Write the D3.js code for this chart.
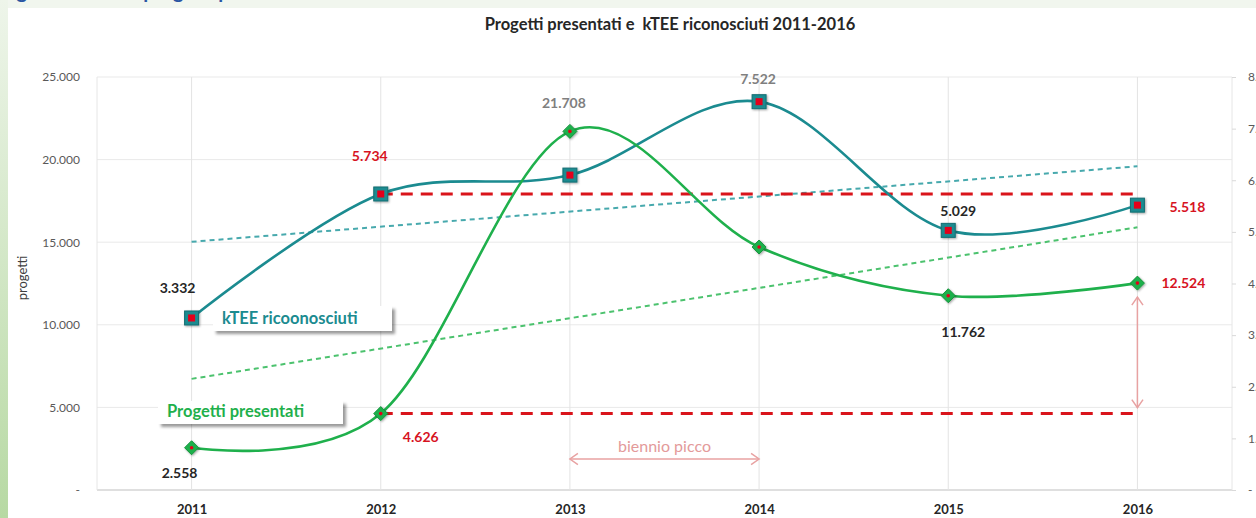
<!DOCTYPE html>
<html>
<head>
<meta charset="utf-8">
<script src="https://cdn.jsdelivr.net/npm/d3@7"></script>
<style>
  body { margin: 0; background: #fff; }
  svg { display: block; font-family: Lato, 'Open Sans', sans-serif; }
</style>
</head>
<body>
<div id="chart"></div>
<script>
// data
const years = ['2011', '2012', '2013', '2014', '2015', '2016'];
const progetti = [2558, 4626, 21708, 14709, 11762, 12524];
const ktee = [3332, 5734, 6100, 7522, 5029, 5518];
const leftTicks = [0, 5000, 10000, 15000, 20000, 25000];
const rightTicks = [0, 1000, 2000, 3000, 4000, 5000, 6000, 7000, 8000];

// which points carry a value label, and their colour
const progettiLabels = ['dark', 'red', 'gray', null, 'dark', 'red'];
const kteeLabels = ['dark', 'red', null, 'gray', 'dark', 'red'];

const width = 1256;
const height = 518;
const plot = { left: 97, right: 1232, top: 77, bottom: 490 };

const itFmt = d3.formatLocale({ decimal: ',', thousands: '.', grouping: [3], currency: ['€', ''] }).format(',.0f');
const tickFmt = d => d === 0 ? '-' : itFmt(d);

const labelColors = { dark: '#262626', red: '#d7141f', gray: '#7f7f7f' };
const teal = '#1b8b90';
const green = '#1fb04c';
const redDash = '#d9141b';
const pink = '#e8a2a2';

const svg = d3.select('#chart')
    .append('svg')
    .attr('width', width)
    .attr('height', height);

const defs = svg.append('defs');

const markerShadow = defs.append('filter').attr('id', 'mshadow')
    .attr('x', '-50%').attr('y', '-50%').attr('width', '200%').attr('height', '200%');
markerShadow.append('feDropShadow')
    .attr('dx', 1).attr('dy', 1).attr('stdDeviation', 1)
    .attr('flood-color', '#000').attr('flood-opacity', 0.35);

const boxShadow = defs.append('filter').attr('id', 'bshadow')
    .attr('x', '-20%').attr('y', '-50%').attr('width', '140%').attr('height', '200%');
boxShadow.append('feDropShadow')
    .attr('dx', 3).attr('dy', 3).attr('stdDeviation', 1.5)
    .attr('flood-color', '#000').attr('flood-opacity', 0.4);

const blur = defs.append('filter').attr('id', 'blur')
    .attr('x', '-20%').attr('y', '-200%').attr('width', '140%').attr('height', '500%');
blur.append('feGaussianBlur').attr('stdDeviation', 1.4);

const sideGrad = defs.append('linearGradient')
    .attr('id', 'sideGrad')
    .attr('x1', '0%').attr('y1', '0%').attr('x2', '0%').attr('y2', '100%');
sideGrad.append('stop').attr('offset', '0%').attr('stop-color', '#eef5ea');
sideGrad.append('stop').attr('offset', '100%').attr('stop-color', '#b7d9a3');

// page background: green strips at top and left
svg.append('rect')
    .attr('width', width).attr('height', 8)
    .attr('fill', '#f1f6ee');
svg.append('rect')
    .attr('y', 0).attr('width', 8).attr('height', height)
    .attr('fill', 'url(#sideGrad)');

// page heading above the chart, mostly outside the window
svg.append('text')
    .attr('x', 0)
    .attr('y', -2)
    .style('fill', '#2a56a3')
    .style('font-size', '20px')
    .style('font-weight', 'bold')
    .text('Figura 6 – Serie progetti presentati e kTEE riconosciuti');

svg.append('rect')
    .attr('x', 8).attr('y', 8)
    .attr('width', width - 8).attr('height', height - 8)
    .attr('fill', '#fff');

const x = d3.scalePoint()
    .domain(years)
    .range([plot.left, plot.right])
    .padding(0.5);

const yL = d3.scaleLinear()
    .domain([0, 25000])
    .range([plot.bottom, plot.top]);

const yR = d3.scaleLinear()
    .domain([0, 8000])
    .range([plot.bottom, plot.top]);

// grid
svg.selectAll('.hgrid')
    .data(leftTicks)
    .enter()
    .append('line')
    .attr('class', 'hgrid')
    .attr('x1', plot.left).attr('x2', plot.right)
    .attr('y1', d => yL(d)).attr('y2', d => yL(d))
    .style('stroke', d => d === 0 ? '#d4d4d4' : '#e9e9e9')
    .style('stroke-width', d => d === 0 ? 1.5 : 1);

svg.selectAll('.vgrid')
    .data(years)
    .enter()
    .append('line')
    .attr('class', 'vgrid')
    .attr('x1', d => x(d)).attr('x2', d => x(d))
    .attr('y1', plot.top).attr('y2', plot.bottom)
    .style('stroke', '#e3e3e3');

[plot.left, plot.right].forEach(px => {
    svg.append('line')
        .attr('x1', px).attr('x2', px)
        .attr('y1', plot.top).attr('y2', plot.bottom)
        .style('stroke', '#e6e6e6');
});

// axes
const leftAxis = svg.append('g')
    .attr('transform', `translate(${plot.left},0)`)
    .call(d3.axisLeft(yL).tickValues(leftTicks).tickFormat(tickFmt).tickSize(0).tickPadding(17));
leftAxis.select('.domain').remove();
leftAxis.selectAll('text')
    .style('fill', '#595959')
    .style('font-size', '12px')
    .style('font-family', 'Lato, sans-serif');

const rightAxis = svg.append('g')
    .attr('transform', `translate(${plot.right},0)`)
    .call(d3.axisRight(yR).tickValues(rightTicks).tickFormat(tickFmt).tickSize(4).tickPadding(12));
rightAxis.select('.domain').remove();
rightAxis.selectAll('line').style('stroke', '#d9d9d9');
rightAxis.selectAll('text')
    .style('fill', '#595959')
    .style('font-size', '12px')
    .style('font-family', 'Lato, sans-serif');

const bottomAxis = svg.append('g')
    .attr('transform', `translate(0,${plot.bottom})`)
    .call(d3.axisBottom(x).tickSize(0).tickPadding(15));
bottomAxis.select('.domain').remove();
bottomAxis.selectAll('text')
    .style('fill', '#262626')
    .style('font-size', '13px')
    .style('font-weight', 'bold')
    .style('font-family', 'Lato, sans-serif');

svg.append('text')
    .attr('transform', 'rotate(-90)')
    .attr('x', -278)
    .attr('y', 27)
    .attr('text-anchor', 'middle')
    .style('fill', '#404040')
    .style('font-size', '13px')
    .text('progetti');

svg.append('text')
    .attr('x', 670)
    .attr('y', 30)
    .attr('text-anchor', 'middle')
    .style('fill', '#262626')
    .style('font-size', '16.5px')
    .style('font-weight', 'bold')
    .style('white-space', 'pre')
    .text('Progetti presentati e  kTEE riconosciuti 2011-2016');

// linear trend lines (Excel-style)
function trend(values) {
    const idx = values.map((d, i) => i);
    const mx = d3.mean(idx);
    const my = d3.mean(values);
    const slope = d3.sum(idx, i => (i - mx) * (values[i] - my)) / d3.sum(idx, i => (i - mx) ** 2);
    return idx.map(i => my + slope * (i - mx));
}

const kteeTrend = trend(ktee);
const progettiTrend = trend(progetti);
const last = years.length - 1;

svg.append('line')
    .attr('x1', x(years[0])).attr('x2', x(years[last]))
    .attr('y1', yR(kteeTrend[0])).attr('y2', yR(kteeTrend[last]))
    .style('stroke', '#47a9ad')
    .style('stroke-width', 2)
    .style('stroke-dasharray', '5,4');

svg.append('line')
    .attr('x1', x(years[0])).attr('x2', x(years[last]))
    .attr('y1', yL(progettiTrend[0])).attr('y2', yL(progettiTrend[last]))
    .style('stroke', '#4cc26e')
    .style('stroke-width', 2)
    .style('stroke-dasharray', '5,4');

// red reference lines at the 2012 levels
svg.append('line')
    .attr('x1', x(years[1])).attr('x2', x(years[last]))
    .attr('y1', yR(ktee[1])).attr('y2', yR(ktee[1]))
    .style('stroke', redDash)
    .style('stroke-width', 3)
    .style('stroke-dasharray', '12,8');

svg.append('line')
    .attr('x1', x(years[1])).attr('x2', x(years[last]))
    .attr('y1', yL(progetti[1])).attr('y2', yL(progetti[1]))
    .style('stroke', redDash)
    .style('stroke-width', 3)
    .style('stroke-dasharray', '12,8');

// pink arrows
function chevron(px, py, dir) {
    const s = 8;
    let d;
    if (dir === 'up') d = `M${px - s * 0.7},${py + s} L${px},${py} L${px + s * 0.7},${py + s}`;
    if (dir === 'down') d = `M${px - s * 0.7},${py - s} L${px},${py} L${px + s * 0.7},${py - s}`;
    if (dir === 'left') d = `M${px + s},${py - s * 0.7} L${px},${py} L${px + s},${py + s * 0.7}`;
    if (dir === 'right') d = `M${px - s},${py - s * 0.7} L${px},${py} L${px - s},${py + s * 0.7}`;
    svg.append('path')
        .attr('d', d)
        .attr('fill', 'none')
        .style('stroke', pink)
        .style('stroke-width', 1.5);
}

const ax = x(years[last]);
const ay1 = yL(progetti[last]) + 14;
const ay2 = yL(progetti[1]) - 6;
svg.append('line')
    .attr('x1', ax).attr('x2', ax)
    .attr('y1', ay1).attr('y2', ay2)
    .style('stroke', pink)
    .style('stroke-width', 1.5);
chevron(ax, ay1, 'up');
chevron(ax, ay2, 'down');

const hy = 459;
svg.append('line')
    .attr('x1', x('2013')).attr('x2', x('2014'))
    .attr('y1', hy).attr('y2', hy)
    .style('stroke', pink)
    .style('stroke-width', 1.5);
chevron(x('2013'), hy, 'left');
chevron(x('2014'), hy, 'right');

svg.append('text')
    .attr('x', (x('2013') + x('2014')) / 2)
    .attr('y', hy - 7)
    .attr('text-anchor', 'middle')
    .style('fill', '#e39a9a')
    .style('font-size', '16px')
    .text('biennio picco');

// series lines
const smooth = d3.curveCatmullRom.alpha(0);

svg.append('path')
    .datum(ktee)
    .attr('fill', 'none')
    .attr('stroke', teal)
    .attr('stroke-width', 2.6)
    .attr('d', d3.line().x((d, i) => x(years[i])).y(d => yR(d)).curve(smooth));

svg.append('path')
    .datum(progetti)
    .attr('fill', 'none')
    .attr('stroke', green)
    .attr('stroke-width', 2.6)
    .attr('d', d3.line().x((d, i) => x(years[i])).y(d => yL(d)).curve(smooth));

// markers
const sq = svg.selectAll('.sq')
    .data(ktee)
    .enter()
    .append('g')
    .attr('class', 'sq')
    .attr('transform', (d, i) => `translate(${x(years[i])},${yR(d)})`);
sq.append('rect')
    .attr('x', -7).attr('y', -7).attr('width', 14).attr('height', 14)
    .attr('fill', teal)
    .attr('stroke', '#166e72')
    .attr('stroke-width', 1)
    .attr('filter', 'url(#mshadow)');
sq.append('rect')
    .attr('x', -3.5).attr('y', -3.5).attr('width', 7).attr('height', 7)
    .attr('fill', '#e3001b');

const dm = svg.selectAll('.dm')
    .data(progetti)
    .enter()
    .append('g')
    .attr('class', 'dm')
    .attr('transform', (d, i) => `translate(${x(years[i])},${yL(d)})`);
dm.append('path')
    .attr('d', 'M0,-7 L7,0 L0,7 L-7,0 Z')
    .attr('fill', green)
    .attr('stroke', '#13933b')
    .attr('stroke-width', 1)
    .attr('filter', 'url(#mshadow)');
dm.append('circle')
    .attr('r', 1.8)
    .attr('fill', '#e3001b');

// value labels with their grey shadow bars
const progettiOffsets = [[-12, 30], [40, 28], [-6, -23], null, [15, 41], [46, 5]];
const kteeOffsets = [[-14, -25], [-11, -33], null, [-1, -18], [10, -14], [50, 7]];

function valueLabels(values, scale, kinds, offsets) {
    values.forEach((v, i) => {
        if (!kinds[i]) return;
        const lx = x(years[i]) + offsets[i][0];
        const ly = scale(v) + offsets[i][1];
        const t = svg.append('text')
            .attr('x', lx)
            .attr('y', ly)
            .attr('text-anchor', 'middle')
            .style('fill', labelColors[kinds[i]])
            .style('font-size', '14px')
            .style('font-weight', 'bold')
            .text(itFmt(v));
        const w = t.node().getComputedTextLength();
        svg.insert('rect', 'text')
            .attr('x', lx - w / 2 - 4)
            .attr('y', ly + 8)
            .attr('width', w + 14)
            .attr('height', 3)
            .attr('fill', '#9a9a9a')
            .attr('filter', 'url(#blur)');
    });
}

valueLabels(progetti, yL, progettiLabels, progettiOffsets);
valueLabels(ktee, yR, kteeLabels, kteeOffsets);

// series name boxes
function nameBox(bx, by, bw, bh, label, color) {
    svg.append('rect')
        .attr('x', bx).attr('y', by)
        .attr('width', bw).attr('height', bh)
        .attr('fill', '#fff')
        .attr('filter', 'url(#bshadow)');
    svg.append('text')
        .attr('x', bx + 9)
        .attr('y', by + bh - 7)
        .style('fill', color)
        .style('font-size', '16.5px')
        .style('font-weight', 'bold')
        .text(label);
}

nameBox(213, 306, 179, 25, 'kTEE ricoonosciuti', teal);
nameBox(158, 401, 185, 23, 'Progetti presentati', green);
</script>
</body>
</html>
